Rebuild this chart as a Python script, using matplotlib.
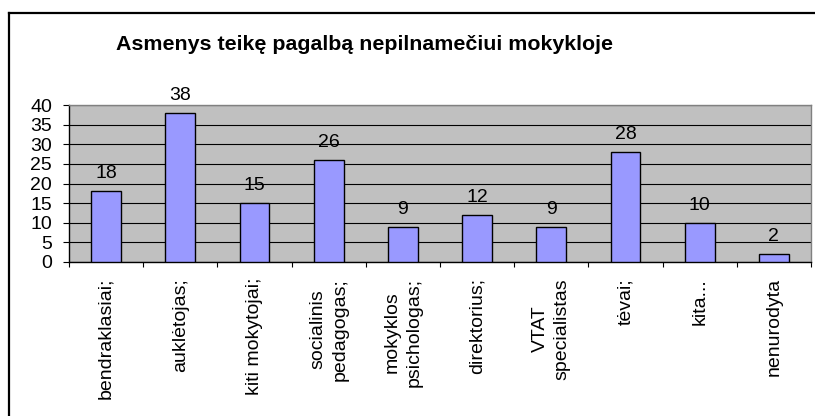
import matplotlib.pyplot as plt
from matplotlib.lines import Line2D
import numpy as np

plt.rcParams['font.family'] = ['Liberation Sans', 'DejaVu Sans']

categories = ["bendraklasiai;", "auklėtojas;", "kiti mokytojai;",
              "socialinis\npedagogas;", "mokyklos\npsichologas;", "direktorius;",
              "VTAT\nspecialistas", "tėvai;", "kita...", "nenurodyta"]
values = [18, 38, 15, 26, 9, 12, 9, 28, 10, 2]
yticks = [0, 5, 10, 15, 20, 25, 30, 35, 40]
title = "Asmenys teikę pagalbą nepilnamečiui mokykloje"

W, H = 815, 416
fig = plt.figure(figsize=(W / 100, H / 100), dpi=100)
ax = fig.add_axes([69 / W, 1 - 262 / H, (811 - 69) / W, (262 - 105) / H])

x = np.arange(len(categories))
bars = ax.bar(x, values, width=0.4, color="#9999FF", edgecolor="black", linewidth=1.0, zorder=3)

for xi, v in zip(x, values):
    ax.annotate(str(v), (xi, v), xytext=(0, 9.4), textcoords="offset points",
                ha="center", va="baseline", fontsize=14)

ax.set_facecolor("#C0C0C0")
ax.set_xlim(-0.5, len(categories) - 0.5)
ax.set_ylim(0, 40)
ax.set_yticks(yticks)
ax.yaxis.grid(True, color="black", linewidth=0.8, zorder=0)
ax.set_axisbelow(True)

ax.set_xticks(x)
ax.set_xticklabels(categories, rotation=90, fontsize=14, ha="center", va="top",
                   multialignment="center", linespacing=1.4)
ax.set_xticks(np.arange(len(categories) + 1) - 0.5, minor=True)
ax.tick_params(axis="x", which="major", length=0, pad=11.5)
ax.tick_params(axis="x", which="minor", length=3.6, width=0.8, direction="out")
ax.tick_params(axis="y", length=4.3, width=0.8, pad=7.9, labelsize=14)

for s in ["top", "right"]:
    ax.spines[s].set_color("#808080")
    ax.spines[s].set_linewidth(1.0)
for s in ["left", "bottom"]:
    ax.spines[s].set_color("black")
    ax.spines[s].set_linewidth(1.0)

fig.text(365 / W, 1 - 50 / H, title, ha="center", va="baseline",
         fontsize=15.4, fontweight="bold")

# outer chart frame (cropped on right and bottom)
fig.add_artist(Line2D([9 / W, 9 / W], [0, 1 - 13 / H], color="black", linewidth=1.6,
                      transform=fig.transFigure))
fig.add_artist(Line2D([9 / W, 1], [1 - 13 / H, 1 - 13 / H], color="black", linewidth=1.6,
                      transform=fig.transFigure))

fig.savefig("out.png", dpi=100)
